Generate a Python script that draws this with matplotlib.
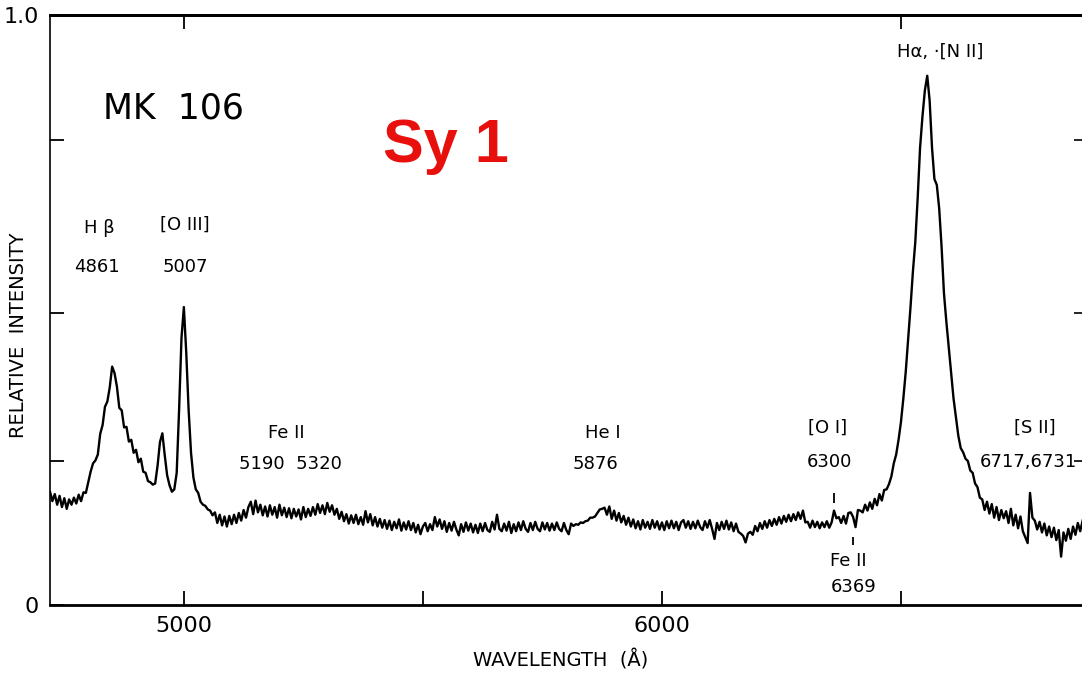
import numpy as np
import matplotlib
matplotlib.use("Agg")
import matplotlib.pyplot as plt

plt.rcParams['font.family'] = ['DejaVu Sans']

# relative intensity, one value every 5 A starting at 4720 A
wave_start = 4720
wave_step = 5
flux = [
    0.192, 0.176, 0.188, 0.170, 0.185, 0.166, 0.181, 0.163, 0.179, 0.170,  # 4720
    0.182, 0.172, 0.187, 0.176, 0.191, 0.190, 0.208, 0.226, 0.240, 0.245,  # 4770
    0.255, 0.290, 0.305, 0.336, 0.345, 0.369, 0.404, 0.393, 0.370, 0.334,  # 4820 H beta
    0.330, 0.301, 0.302, 0.277, 0.280, 0.258, 0.263, 0.242, 0.248, 0.226,  # 4870
    0.224, 0.210, 0.208, 0.204, 0.206, 0.236, 0.276, 0.291, 0.254, 0.220,  # 4920 [O III] 4959
    0.203, 0.192, 0.196, 0.224, 0.330, 0.452, 0.505, 0.428, 0.330, 0.258,  # 4970 [O III] 5007
    0.216, 0.196, 0.190, 0.175, 0.170, 0.168, 0.162, 0.160, 0.152, 0.157,  # 5020
    0.139, 0.153, 0.135, 0.150, 0.133, 0.151, 0.137, 0.153, 0.139, 0.156,  # 5070
    0.143, 0.161, 0.148, 0.166, 0.175, 0.154, 0.177, 0.157, 0.170, 0.152,  # 5120 Fe II
    0.167, 0.150, 0.169, 0.153, 0.166, 0.148, 0.170, 0.152, 0.165, 0.149,  # 5170
    0.164, 0.147, 0.163, 0.150, 0.162, 0.145, 0.166, 0.149, 0.163, 0.151,  # 5220
    0.166, 0.153, 0.171, 0.156, 0.169, 0.154, 0.173, 0.158, 0.169, 0.153,  # 5270
    0.163, 0.146, 0.158, 0.142, 0.154, 0.138, 0.152, 0.139, 0.153, 0.137,  # 5320
    0.149, 0.136, 0.159, 0.140, 0.154, 0.135, 0.149, 0.133, 0.146, 0.131,  # 5370
    0.144, 0.129, 0.143, 0.127, 0.141, 0.130, 0.145, 0.126, 0.140, 0.128,  # 5420
    0.142, 0.127, 0.139, 0.123, 0.136, 0.120, 0.133, 0.139, 0.125, 0.137,  # 5470
    0.127, 0.149, 0.133, 0.145, 0.129, 0.142, 0.124, 0.139, 0.126, 0.141,  # 5520
    0.128, 0.118, 0.137, 0.124, 0.140, 0.126, 0.138, 0.123, 0.136, 0.122,  # 5570
    0.138, 0.125, 0.139, 0.127, 0.124, 0.141, 0.128, 0.153, 0.129, 0.125,  # 5620
    0.138, 0.126, 0.141, 0.122, 0.137, 0.125, 0.140, 0.127, 0.142, 0.129,  # 5670
    0.124, 0.139, 0.127, 0.141, 0.129, 0.125, 0.140, 0.128, 0.139, 0.126,  # 5720
    0.138, 0.127, 0.140, 0.129, 0.125, 0.139, 0.127, 0.120, 0.138, 0.134,  # 5770
    0.137, 0.136, 0.140, 0.139, 0.142, 0.143, 0.148, 0.148, 0.150, 0.156,  # 5820 He I
    0.162, 0.163, 0.165, 0.153, 0.167, 0.146, 0.160, 0.143, 0.156, 0.140,  # 5870
    0.151, 0.136, 0.148, 0.133, 0.145, 0.130, 0.142, 0.128, 0.144, 0.131,  # 5920
    0.141, 0.129, 0.144, 0.131, 0.142, 0.128, 0.140, 0.127, 0.142, 0.130,  # 5970
    0.143, 0.130, 0.141, 0.127, 0.140, 0.144, 0.131, 0.142, 0.129, 0.141,  # 6020
    0.130, 0.143, 0.132, 0.127, 0.142, 0.131, 0.144, 0.129, 0.112, 0.139,  # 6070
    0.127, 0.141, 0.129, 0.143, 0.128, 0.140, 0.125, 0.138, 0.124, 0.121,  # 6120
    0.117, 0.106, 0.121, 0.124, 0.119, 0.134, 0.125, 0.139, 0.129, 0.142,  # 6170
    0.131, 0.144, 0.134, 0.146, 0.136, 0.149, 0.138, 0.151, 0.141, 0.153,  # 6220
    0.142, 0.154, 0.144, 0.157, 0.146, 0.160, 0.140, 0.141, 0.131, 0.143,  # 6270
    0.132, 0.141, 0.130, 0.140, 0.132, 0.142, 0.131, 0.140, 0.160, 0.147,  # 6320 [O I]
    0.149, 0.139, 0.151, 0.138, 0.156, 0.157, 0.149, 0.132, 0.161, 0.160,  # 6370
    0.157, 0.170, 0.160, 0.174, 0.163, 0.180, 0.169, 0.188, 0.177, 0.195,  # 6420
    0.196, 0.205, 0.218, 0.240, 0.255, 0.280, 0.310, 0.350, 0.395, 0.449,  # 6470
    0.505, 0.565, 0.615, 0.690, 0.775, 0.828, 0.872, 0.897, 0.855, 0.775,  # 6520 H alpha
    0.722, 0.712, 0.672, 0.607, 0.528, 0.480, 0.436, 0.390, 0.350, 0.318,  # 6570 [N II]
    0.287, 0.266, 0.259, 0.248, 0.244, 0.228, 0.224, 0.206, 0.200, 0.182,  # 6620
    0.179, 0.161, 0.175, 0.155, 0.171, 0.148, 0.166, 0.144, 0.161, 0.147,  # 6670
    0.159, 0.139, 0.163, 0.135, 0.153, 0.130, 0.150, 0.125, 0.115, 0.105,  # 6720 [S II]
    0.190, 0.148, 0.143, 0.128, 0.141, 0.123, 0.138, 0.118, 0.133, 0.115,  # 6770
    0.131, 0.110, 0.127, 0.082, 0.123, 0.109, 0.129, 0.112, 0.133, 0.119,  # 6820
    0.139, 0.125, 0.143,                                                   # 6870
]
wave = wave_start + wave_step * np.arange(len(flux))

# short marks above [O I] and below Fe II
mark_wave = [6360, 6400]
mark_low = [0.173, 0.102]
mark_high = [0.190, 0.115]

fig = plt.figure(figsize=(10.82, 6.73), dpi=100)
ax = fig.add_axes([50 / 1082, 68 / 673, 1035 / 1082, 590 / 673])

ax.plot(wave, flux, color="black", lw=1.7)
ax.vlines(mark_wave, mark_low, mark_high, color="black", lw=1.3)

ax.set_xlim(4720, 6885)
ax.set_ylim(0, 1.0)

ax.set_xticks([5000, 5500, 6000, 6500])
ax.set_xticklabels(["5000", "", "6000", ""])
ax.set_yticks([0, 0.244, 0.495, 0.788, 1.0])
ax.set_yticklabels(["0", "", "", "", "1.0"])
ax.tick_params(direction="in", length=10, width=1.3, labelsize=16, pad=8)

# extra tick marks on the top and right frame
top = ax.secondary_xaxis("top")
top.set_xticks([5000, 6500])
top.set_xticklabels([])
top.tick_params(direction="in", length=10, width=1.3)
top.spines["top"].set_linewidth(2)
right = ax.secondary_yaxis("right")
right.set_yticks([0.244, 0.495, 0.788])
right.set_yticklabels([])
right.tick_params(direction="in", length=8, width=1.2)

ax.spines["top"].set_linewidth(2)
ax.spines["bottom"].set_linewidth(2)
ax.spines["left"].set_linewidth(1.2)
ax.spines["right"].set_linewidth(1.2)

ax.set_xlabel("WAVELENGTH  (Å)", fontsize=14)
ax.xaxis.set_label_coords(0.493, -0.076)
ax.set_ylabel("RELATIVE  INTENSITY", fontsize=14)
ax.yaxis.set_label_coords(-0.021, 0.458)

ax.text(4830, 0.842, "MK  106", fontsize=25, ha="left", va="center")
ax.text(5416, 0.751, "Sy 1", fontsize=44, fontweight="bold", color="#e8100c",
        family="Liberation Sans", ha="left", va="baseline")

lbl = dict(fontsize=13, ha="center", va="center")
ax.text(4824, 0.639, "H β", **lbl)
ax.text(4818, 0.573, "4861", **lbl)
ax.text(5002, 0.644, "[O III]", **lbl)
ax.text(5002, 0.573, "5007", **lbl)
ax.text(5215, 0.292, "Fe II", **lbl)
ax.text(5222, 0.239, "5190  5320", **lbl)
ax.text(5877, 0.292, "He I", **lbl)
ax.text(5860, 0.239, "5876", **lbl)
ax.text(6347, 0.300, "[O I]", **lbl)
ax.text(6351, 0.242, "6300", **lbl)
ax.text(6389, 0.075, "Fe II", **lbl)
ax.text(6400, 0.031, "6369", **lbl)
ax.text(6582, 0.937, "Hα, ·[N II]", **lbl)
ax.text(6780, 0.300, "[S II]", **lbl)
ax.text(6665, 0.242, "6717,6731", fontsize=13, ha="left", va="center")

fig.savefig("out.png", dpi=100)
